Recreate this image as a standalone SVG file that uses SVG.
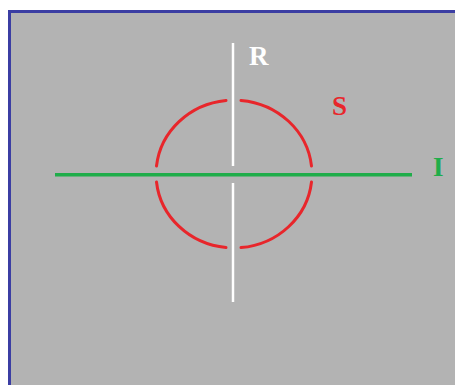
<svg xmlns="http://www.w3.org/2000/svg" width="455" height="385" viewBox="0 0 455 385">
<style>
.lbl{font-family:"Liberation Serif","Times New Roman",serif;font-weight:bold;font-size:27px}
.arc{fill:none;stroke:#e8262b;stroke-width:3;stroke-linecap:round}
</style>
<rect x="0" y="0" width="455" height="385" fill="#ffffff"/>
<rect x="9.5" y="11.5" width="460" height="390" fill="#b3b3b3" stroke="#3b3ea3" stroke-width="3"/>
<g id="connectors">
<path id="S-arcs" class="arc" d="M226,100.4 A78,74 0 0 0 156.5,166 M241,100.4 A78,74 0 0 1 311.5,166 M226,247.6 A78,74 0 0 1 156.5,182 M241,247.6 A78,74 0 0 0 311.5,182"/>
<line x1="233" y1="43" x2="233" y2="166" stroke="#ffffff" stroke-width="2.5"/>
<line x1="233" y1="183" x2="233" y2="302" stroke="#ffffff" stroke-width="2.5"/>
<line x1="55" y1="174.7" x2="412" y2="174.7" stroke="#1fad4a" stroke-width="3.5"/>
</g>
<g id="R"><text class="lbl" x="249" y="65" fill="#ffffff">R</text></g>
<g id="S"><text class="lbl" x="332" y="115" fill="#e8262b">S</text></g>
<g id="I"><text class="lbl" x="433" y="176" fill="#1fad4a">I</text></g>
</svg>
